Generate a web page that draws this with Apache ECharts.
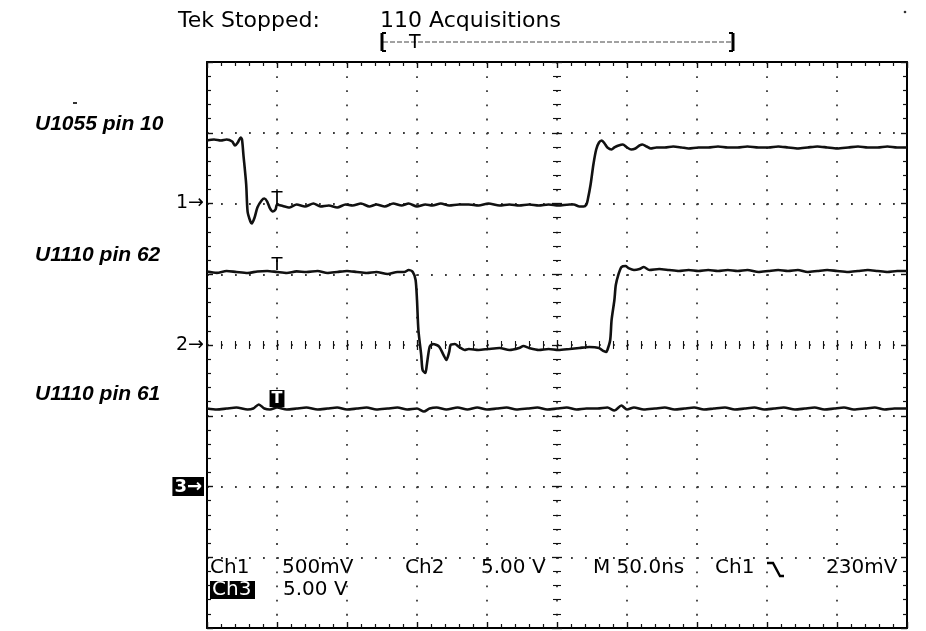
<!DOCTYPE html>
<html><head><meta charset="utf-8">
<script src="https://cdn.jsdelivr.net/npm/echarts@6/dist/echarts.min.js"></script>
<style>html,body{margin:0;padding:0;background:#fff}#c{width:926px;height:631px}</style>
</head><body><div id="c"></div><script>
// ---- data ----
const channelNames = ['U1055 pin 10', 'U1110 pin 62', 'U1110 pin 61'];
const groundLabels = ['1→', '2→', '3→'];
const triggerTime = 50; // ns
// Ch1 trace: [time ns, mV]
const ch1Trace = [[0,445],[5,452],[10,445],[14,452],[18,438],[20,410],[22,431],[24,466],[25,452],[26,346],[28,134],[29,-57],[31,-127],[32,-141],[34,-99],[36,-28],[39,21],[41,35],[43,14],[45,-35],[47,-57],[49,-42],[50,-7],[53,-14],[59,-28],[64,-7],[70,-21],[76,0],[81,-21],[87,-14],[93,-28],[99,-7],[104,-14],[110,0],[116,-21],[121,-7],[127,-21],[133,0],[139,-14],[144,0],[150,-21],[156,-7],[161,-14],[167,0],[173,-14],[180,-7],[187,-7],[194,-14],[201,0],[209,-14],[216,-7],[223,-14],[230,-7],[237,-14],[244,-7],[251,-14],[259,-7],[262,-7],[266,-21],[269,-21],[271,-7],[272,28],[274,134],[276,276],[278,382],[280,431],[282,445],[284,424],[286,396],[289,382],[291,396],[294,410],[297,417],[300,396],[303,382],[306,389],[309,410],[311,417],[314,403],[317,389],[321,396],[327,396],[333,403],[339,396],[344,389],[351,396],[358,396],[365,403],[372,396],[379,396],[386,403],[394,396],[401,396],[408,403],[415,396],[422,389],[429,396],[436,403],[443,396],[450,389],[458,396],[465,403],[472,396],[479,396],[486,403],[493,396],[500,396]];
// Ch2 trace: [time ns, V]
const ch2Trace = [[0,5.2],[7,5.1],[14,5.23],[21,5.16],[29,5.09],[36,5.2],[43,5.23],[50,5.16],[57,5.09],[64,5.2],[71,5.16],[79,5.23],[86,5.09],[93,5.16],[100,5.23],[107,5.16],[114,5.09],[121,5.16],[129,5.02],[136,5.16],[141,5.16],[144,5.3],[147,5.16],[149,4.59],[150,3.18],[151,1.06],[153,-0.71],[154,-1.77],[156,-1.98],[157,-1.41],[159,-0.14],[161,0.07],[164,0],[166,-0.14],[169,-0.71],[171,-1.06],[173,-0.49],[174,0],[177,0.07],[180,-0.14],[184,-0.35],[187,-0.28],[194,-0.35],[201,-0.28],[209,-0.21],[216,-0.35],[223,-0.21],[226,-0.07],[230,-0.21],[237,-0.35],[244,-0.28],[251,-0.35],[259,-0.28],[266,-0.21],[273,-0.14],[280,-0.21],[283,-0.42],[285,-0.49],[286,-0.35],[288,0.35],[289,1.77],[291,3.18],[292,4.24],[294,5.02],[296,5.51],[299,5.58],[301,5.44],[305,5.3],[309,5.37],[312,5.51],[316,5.3],[323,5.37],[330,5.3],[337,5.23],[344,5.3],[351,5.23],[358,5.3],[365,5.23],[372,5.3],[379,5.23],[386,5.3],[394,5.16],[401,5.23],[408,5.3],[415,5.23],[422,5.3],[429,5.16],[436,5.23],[443,5.3],[450,5.23],[458,5.16],[465,5.23],[472,5.3],[479,5.23],[486,5.16],[493,5.23],[500,5.23]];
// Ch3 trace: [time ns, V]
const ch3Trace = [[0,5.51],[7,5.44],[14,5.51],[21,5.58],[29,5.44],[33,5.51],[37,5.8],[41,5.51],[45,5.44],[50,5.58],[57,5.44],[64,5.51],[71,5.58],[79,5.44],[86,5.51],[93,5.58],[100,5.44],[107,5.51],[114,5.58],[121,5.44],[129,5.51],[136,5.58],[143,5.44],[150,5.51],[155,5.3],[159,5.51],[164,5.58],[171,5.44],[179,5.58],[186,5.44],[193,5.58],[200,5.44],[207,5.51],[214,5.58],[221,5.44],[229,5.51],[236,5.58],[243,5.44],[250,5.51],[257,5.58],[264,5.44],[271,5.51],[279,5.51],[286,5.58],[291,5.37],[296,5.72],[300,5.44],[305,5.58],[312,5.44],[320,5.51],[327,5.58],[334,5.44],[341,5.51],[348,5.58],[355,5.44],[362,5.51],[370,5.58],[377,5.44],[384,5.51],[391,5.58],[398,5.44],[405,5.51],[412,5.58],[420,5.44],[427,5.51],[434,5.58],[441,5.44],[448,5.51],[455,5.58],[462,5.44],[470,5.51],[477,5.58],[484,5.44],[491,5.51],[500,5.51]];
// per-channel settings: volts (or mV) per division and ground position (divisions from centre)
const chScale = [500, 5, 5];
const chGround = [2, 0, -2];
const timePerDiv = 50; // ns
const readoutRow1 = ['Ch1', '500mV', 'Ch2', '5.00 V', 'M 50.0ns', 'Ch1', '230mV'];
const readoutRow2 = ['Ch3', '5.00 V'];

// ---- chart ----
const chart = echarts.init(document.getElementById('c'), null, {renderer: 'canvas'});
const G = {left: 207, top: 62, width: 700, height: 566};
const black = '#111';
const dotX = {color: '#3a3a3a', width: 1.8, type: [1.8, 12.35]};
const dotY = {color: '#3a3a3a', width: 1.8, type: [1.8, 12.2]};
function frameAxis(pos, extra) {
  return Object.assign({
    type: 'value', position: pos,
    axisLine: {show: true, onZero: false, lineStyle: {color: '#000', width: 2}},
    axisTick: {show: true, inside: true, length: 6, lineStyle: {color: black, width: 1.4}},
    minorTick: {show: true, splitNumber: 5, length: 4, lineStyle: {color: black, width: 1.2}},
    axisLabel: {show: false}, splitLine: {show: false}
  }, extra);
}
function centerAxis(pos, inside, offset) {
  return {
    type: 'value', position: pos, offset: offset,
    axisLine: {show: false, onZero: false},
    axisTick: {show: true, inside: inside, length: 5, lineStyle: {color: black, width: 1.3}},
    minorTick: {show: true, splitNumber: 5, length: 4, lineStyle: {color: black, width: 1.1}},
    axisLabel: {show: false}, splitLine: {show: false}
  };
}
const xr = {min: 0, max: 10 * timePerDiv, interval: timePerDiv};
const yr = {min: -4, max: 4, interval: 1};
const xAxes = [
  Object.assign(frameAxis('bottom', {splitLine: {show: true, lineStyle: dotX}}), xr),
  Object.assign(frameAxis('top'), xr),
  Object.assign(centerAxis('bottom', true, -G.height / 2), xr),
  Object.assign(centerAxis('bottom', false, -G.height / 2), xr)
];
const yAxes = [
  Object.assign(frameAxis('left', {
    splitLine: {show: true, lineStyle: dotY},
    axisLabel: {
      show: true, margin: 3, color: '#000', fontSize: 19, fontFamily: 'DejaVu Sans',
      formatter: function (v) {
        const i = chGround.indexOf(v);
        if (i < 0) return '';
        return i === 2 ? '{box|' + groundLabels[i] + '}' : groundLabels[i];
      },
      rich: {box: {backgroundColor: '#000', color: '#fff', fontSize: 18, fontWeight: 'bold', fontFamily: 'DejaVu Sans', padding: [1, 2, 0, 2]}}
    }
  }), yr),
  Object.assign(frameAxis('right'), yr),
  Object.assign(centerAxis('left', true, -G.width / 2), yr),
  Object.assign(centerAxis('left', false, -G.width / 2), yr)
];
chScale.forEach(function (s, i) {
  yAxes.push({type: 'value', show: false, min: (-4 - chGround[i]) * s, max: (4 - chGround[i]) * s,
    axisLine: {onZero: false}, splitLine: {show: false}});
});
const traces = [ch1Trace, ch2Trace, ch3Trace];
const tOffsets = [-5, -7, -9];
const series = traces.map(function (tr, i) {
  const trig = tr.find(function (p) { return p[0] === triggerTime; });
  const lab = i === 2
    ? {show: true, formatter: 'T', color: '#fff', backgroundColor: '#000', fontWeight: 'bold', fontSize: 16, fontFamily: 'DejaVu Sans', padding: [1, 2, 0, 2], offset: [0, tOffsets[i]]}
    : {show: true, formatter: 'T', color: '#000', fontSize: 18, fontFamily: 'DejaVu Sans', offset: [0, tOffsets[i]]};
  return {
    type: 'line', name: channelNames[i], xAxisIndex: 0, yAxisIndex: 4 + i, data: tr,
    showSymbol: false, smooth: 0.25, animation: false,
    lineStyle: {color: black, width: 2.6},
    markPoint: {symbol: 'rect', symbolSize: 1, itemStyle: {color: 'rgba(0,0,0,0)'}, label: lab,
      data: [{coord: trig}], animation: false}
  };
});

const font20 = '20px "DejaVu Sans"';
function txt(x, y, s, font, fill) {
  return {type: 'text', x: x, y: y, style: {text: s, font: font, fill: fill || '#000', textVerticalAlign: 'middle'}};
}
const rowY1 = 568, rowY2 = 590;
const graphics = [
  txt(178, 21, 'Tek Stopped:', '22px "DejaVu Sans"'),
  txt(380, 21, '110 Acquisitions', '22px "DejaVu Sans"'),
  {type: 'line', shape: {x1: 383, y1: 42, x2: 732, y2: 42}, style: {stroke: '#444', lineWidth: 1, lineDash: [5, 2]}},
  {type: 'line', shape: {x1: 382, y1: 33, x2: 382, y2: 51}, style: {stroke: '#000', lineWidth: 3}},
  {type: 'line', shape: {x1: 382, y1: 33, x2: 386, y2: 33}, style: {stroke: '#000', lineWidth: 2}},
  {type: 'line', shape: {x1: 382, y1: 51, x2: 386, y2: 51}, style: {stroke: '#000', lineWidth: 2}},
  {type: 'line', shape: {x1: 733, y1: 33, x2: 733, y2: 51}, style: {stroke: '#000', lineWidth: 3}},
  {type: 'line', shape: {x1: 729, y1: 33, x2: 733, y2: 33}, style: {stroke: '#000', lineWidth: 2}},
  {type: 'line', shape: {x1: 729, y1: 51, x2: 733, y2: 51}, style: {stroke: '#000', lineWidth: 2}},
  txt(409, 43, 'T', '19px "DejaVu Sans"'),
  txt(35, 124, channelNames[0], 'italic bold 21px "Liberation Sans"'),
  txt(35, 255, channelNames[1], 'italic bold 21px "Liberation Sans"'),
  txt(35, 394, channelNames[2], 'italic bold 21px "Liberation Sans"'),
  txt(210, rowY1, readoutRow1[0], font20),
  txt(282, rowY1, readoutRow1[1], font20),
  txt(405, rowY1, readoutRow1[2], font20),
  txt(481, rowY1, readoutRow1[3], font20),
  txt(593, rowY1, readoutRow1[4], font20),
  txt(715, rowY1, readoutRow1[5], font20),
  {type: 'polyline', shape: {points: [[767, 563], [773, 563], [780, 576], [784, 576]]}, style: {stroke: '#000', lineWidth: 2.4, fill: null}},
  txt(826, rowY1, readoutRow1[6], font20),
  {type: 'rect', shape: {x: 210, y: 581, width: 45, height: 18}, style: {fill: '#000'}},
  txt(212, rowY2, readoutRow2[0], font20, '#fff'),
  txt(283, rowY2, readoutRow2[1], font20),
  {type: 'rect', shape: {x: 73, y: 102, width: 4, height: 2}, style: {fill: '#333'}},
  {type: 'circle', shape: {cx: 905, cy: 12, r: 1.3}, style: {fill: '#333'}}
];

chart.setOption({
  backgroundColor: '#fff',
  animation: false,
  grid: {left: G.left, top: G.top, width: G.width, height: G.height, containLabel: false, outerBoundsMode: 'none'},
  xAxis: xAxes,
  yAxis: yAxes,
  series: series,
  graphic: graphics
});
</script></body></html>
